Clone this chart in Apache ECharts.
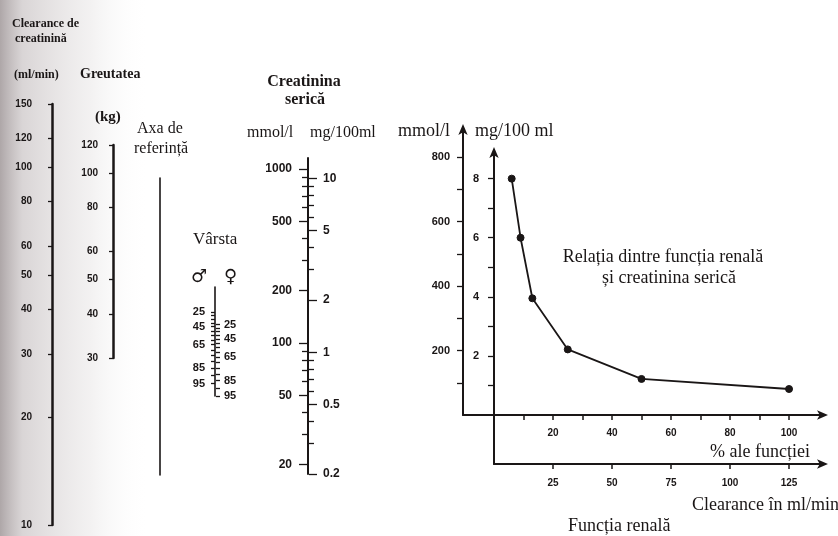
<!DOCTYPE html>
<html>
<head>
<meta charset="utf-8">
<script src="https://cdn.jsdelivr.net/npm/echarts@6/dist/echarts.min.js"></script>
<style>html,body{margin:0;padding:0;background:#fff}#c{width:838px;height:536px}</style>
</head>
<body>
<div id="c"></div>
<script>
// ---- Nomogram scale ticks ----
const clearanceTicks = [10, 20, 30, 40, 50, 60, 80, 100, 120, 150];
const weightTicks = [30, 40, 50, 60, 80, 100, 120];
const ageMaleLabels = [25, 45, 65, 85, 95];
const ageFemaleLabels = [25, 45, 65, 85, 95];
const ageMinor = [25, 30, 35, 40, 45, 50, 55, 60, 65, 70, 75, 80, 85, 90, 95];
const creatUmolLabels = [20, 50, 100, 200, 500, 1000];
const creatUmolMinor = [30, 40, 60, 70, 80, 90, 300, 400, 600, 700, 800, 900];
const creatMgLabels = [0.2, 0.5, 1, 2, 5, 10];
const creatMgMinor = [0.3, 0.4, 0.6, 0.7, 0.8, 0.9, 3, 4, 6, 7, 8, 9];

// ---- Relation chart ----
const pctFunction = [6, 9, 13, 25, 50, 100];
const creatMg = [8, 6, 3.95, 2.22, 1.22, 0.88];
const mmolTicks = [100, 200, 300, 400, 500, 600, 700, 800];
const mmolLabels = [200, 400, 600, 800];
const mgTicks = [1, 2, 3, 4, 5, 6, 7, 8];
const mgLabels = [2, 4, 6, 8];
const pctTicks = [10, 20, 30, 40, 50, 60, 70, 80, 90, 100];
const pctLabels = [20, 40, 60, 80, 100];
const clearTicks = [25, 50, 75, 100, 125];

const L = Math.log10;
const INK = '#1a1616';
const SANS = 'Liberation Sans';
const SERIF = 'Liberation Serif';

function fmtPow(v) { return String(Math.round(Math.pow(10, v) * 100) / 100); }

function hiddenX(gi) { return { type: 'value', gridIndex: gi, show: false, min: 0, max: 1 }; }

function logAxis(gi, pos, minV, maxV, ticks, labels, opt) {
  opt = opt || {};
  return {
    type: 'value', gridIndex: gi, position: pos, min: L(minV), max: L(maxV),
    splitLine: { show: false },
    axisLine: { show: opt.line !== false, onZero: false, lineStyle: { color: INK, width: opt.lw || 2 } },
    axisTick: { show: true, length: opt.tl || 4, customValues: ticks.map(opt.tv || L), lineStyle: { color: INK, width: 1.3 } },
    axisLabel: {
      show: !!labels, customValues: labels ? labels.map(opt.tv || L) : [],
      formatter: opt.fmt || fmtPow, margin: opt.margin || 8,
      color: INK, fontFamily: SANS, fontWeight: 'bold', fontSize: opt.fs || 10
    }
  };
}

const grids = [
  { left: 52, top: 104, width: 1, height: 421 },   // 0 clearance
  { left: 113, top: 145, width: 1, height: 213 },  // 1 weight
  { left: 160, top: 178, width: 1, height: 297 },  // 2 reference
  { left: 215, top: 287, width: 1, height: 109 },  // 3 age
  { left: 308, top: 158, width: 1, height: 316 },  // 4 creatinine
  { left: 463, top: 132, width: 31, height: 283 }, // 5 mmol axis
  { left: 494, top: 155, width: 326, height: 260 },// 6 main relation grid
  { left: 494, top: 415, width: 326, height: 49 }  // 7 clearance axis
].map(g => Object.assign({ outerBoundsMode: 'none', containLabel: false, show: false }, g));

const maleV = a => L(140 - a);
const femaleV = a => L((140 - a) * 0.85);
const arrowLine = { show: true, onZero: false, symbol: ['none', 'arrow'], symbolSize: [7, 11], symbolOffset: [0, 8], lineStyle: { color: INK, width: 2 } };
const tickLbl = (m, fs) => ({ margin: m, color: INK, fontFamily: SANS, fontWeight: 'bold', fontSize: fs || 10 });

const xAxes = [
  hiddenX(0), hiddenX(1), hiddenX(2), hiddenX(3), hiddenX(4),
  { type: 'value', gridIndex: 5, min: 0, max: 1, axisLine: { show: true, onZero: false, lineStyle: { color: INK, width: 2 } },
    axisTick: { show: false }, axisLabel: { show: false }, splitLine: { show: false } },
  { type: 'value', gridIndex: 6, position: 'bottom', min: 0, max: 110.5, axisLine: arrowLine,
    axisTick: { show: true, length: 5, customValues: pctTicks, lineStyle: { color: INK, width: 1.5 } },
    axisLabel: Object.assign({ customValues: pctLabels }, tickLbl(13)),
    splitLine: { show: false } },
  { type: 'value', gridIndex: 7, position: 'bottom', min: 0, max: 138.125, axisLine: arrowLine,
    axisTick: { show: true, length: 5, customValues: clearTicks, lineStyle: { color: INK, width: 1.5 } },
    axisLabel: Object.assign({ customValues: clearTicks }, tickLbl(14)),
    splitLine: { show: false } }
];

const yAxes = [
  logAxis(0, 'left', 10, 150, clearanceTicks, clearanceTicks, { lw: 2.5, tl: 4, margin: 20, fs: 10 }),       // 0
  logAxis(1, 'left', 30, 120, weightTicks, weightTicks, { lw: 2.5, tl: 4, margin: 15, fs: 10 }),             // 1
  { type: 'value', gridIndex: 2, position: 'left', min: 0, max: 1, axisLine: { show: true, onZero: false, lineStyle: { color: INK, width: 1.6 } },
    axisTick: { show: false }, axisLabel: { show: false }, splitLine: { show: false } },                     // 2
  logAxis(3, 'left', 38.25, 160, ageMinor, ageMaleLabels, { lw: 1.6, tl: 4, margin: 10, fs: 11, tv: maleV,
    fmt: v => String(Math.round(140 - Math.pow(10, v))) }),                                                  // 3
  logAxis(3, 'right', 38.25, 160, ageMinor, ageFemaleLabels, { line: false, tl: 4, margin: 8, fs: 11, tv: femaleV,
    fmt: v => String(Math.round(140 - Math.pow(10, v) / 0.85)) }),                                           // 4
  logAxis(4, 'left', 17.68, 1157, creatUmolLabels, creatUmolLabels, { lw: 2, tl: 9, margin: 16, fs: 12 }), // 5
  logAxis(4, 'left', 17.68, 1157, creatUmolMinor, null, { line: false, tl: 6 }),                            // 6
  logAxis(4, 'right', 0.2, 1157 / 88.4, creatMgLabels, creatMgLabels, { line: false, tl: 8, margin: 14, fs: 12 }), // 7
  logAxis(4, 'right', 0.2, 1157 / 88.4, creatMgMinor, null, { line: false, tl: 5 }),                        // 8
  { type: 'value', gridIndex: 5, position: 'left', min: 0, max: 877.6, axisLine: arrowLine,
    axisTick: { show: true, length: 6, customValues: mmolTicks, lineStyle: { color: INK, width: 1.3 } },
    axisLabel: Object.assign({ customValues: mmolLabels }, tickLbl(13, 11)),
    splitLine: { show: false } },                                                                            // 9
  { type: 'value', gridIndex: 6, position: 'left', min: 0, max: 8.8, axisLine: arrowLine,
    axisTick: { show: true, length: 6, customValues: mgTicks, lineStyle: { color: INK, width: 1.3 } },
    axisLabel: Object.assign({ customValues: mgLabels }, tickLbl(15, 11)),
    splitLine: { show: false } },                                                                            // 10
  { type: 'value', gridIndex: 7, position: 'left', min: 0, max: 1,
    axisLine: { show: true, onZero: false, lineStyle: { color: INK, width: 2 } },
    axisTick: { show: false }, axisLabel: { show: false }, splitLine: { show: false } }                     // 11
];

function txt(x, y, text, font, align) {
  return { type: 'text', x: x, y: y, silent: true, z: 10,
    style: { text: text, font: font, fill: INK, align: align || 'left', verticalAlign: 'top',
             textAlign: align || 'left', textVerticalAlign: 'top' } };
}

const graphics = [
  { type: 'rect', z: -10, silent: true, shape: { x: 0, y: 0, width: 150, height: 536 },
    style: { fill: new echarts.graphic.LinearGradient(0, 0, 1, 0, [
      { offset: 0, color: 'rgba(120,108,110,0.6)' },
      { offset: 0.15, color: 'rgba(165,155,157,0.42)' },
      { offset: 0.6, color: 'rgba(205,200,200,0.25)' },
      { offset: 1, color: 'rgba(255,255,255,0)' }]) } },
  txt(12, 18, 'Clearance de', 'bold 12px ' + SERIF),
  txt(15, 33, 'creatinină', 'bold 12px ' + SERIF),
  txt(14, 69, '(ml/min)', 'bold 12px ' + SERIF),
  txt(80, 67, 'Greutatea', 'bold 14px ' + SERIF),
  txt(95, 110, '(kg)', 'bold 15px ' + SERIF),
  txt(137, 121, 'Axa de', '16px ' + SERIF),
  txt(134, 141, 'referință', '16px ' + SERIF),
  txt(193, 231, 'Vârsta', '17px ' + SERIF),
  txt(191, 268, '♂', '18px DejaVu Sans'),
  txt(224, 268, '♀', '18px DejaVu Sans'),
  txt(304, 74, 'Creatinina', 'bold 16px ' + SERIF, 'center'),
  txt(305, 92, 'serică', 'bold 16px ' + SERIF, 'center'),
  txt(247, 125, 'mmol/l', '16px ' + SERIF),
  txt(310, 125, 'mg/100ml', '16px ' + SERIF),
  txt(398, 122, 'mmol/l', '18px ' + SERIF),
  txt(475, 122, 'mg/100 ml', '18px ' + SERIF),
  txt(663, 248, 'Relația dintre funcția renală', '18px ' + SERIF, 'center'),
  txt(669, 269, 'și creatinina serică', '18px ' + SERIF, 'center'),
  txt(810, 443, '% ale funcției', '18px ' + SERIF, 'right'),
  txt(692, 496, 'Clearance în ml/min', '18px ' + SERIF),
  txt(568, 517, 'Funcția renală', '18px ' + SERIF)
];

const chart = echarts.init(document.getElementById('c'), null, { renderer: 'canvas' });
chart.setOption({
  animation: false,
  backgroundColor: '#ffffff',
  grid: grids,
  xAxis: xAxes,
  yAxis: yAxes,
  graphic: graphics,
  series: [{
    type: 'line', xAxisIndex: 6, yAxisIndex: 10,
    data: pctFunction.map((p, i) => [p, creatMg[i]]),
    symbol: 'circle', symbolSize: 7, showSymbol: true,
    lineStyle: { color: INK, width: 1.8 },
    itemStyle: { color: INK, borderColor: INK }
  }]
});
</script>
</body>
</html>
